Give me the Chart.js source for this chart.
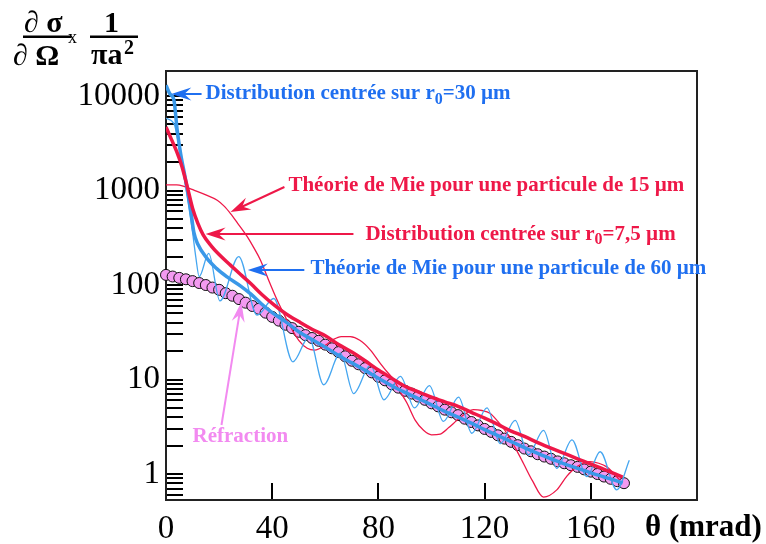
<!DOCTYPE html>
<html>
<head>
<meta charset="utf-8">
<script src="https://cdn.jsdelivr.net/npm/chart.js@4"></script>
<style>body{margin:0;background:#fff}</style>
</head>
<body>
<canvas id="c" width="766" height="544"></canvas>
<script>
// tick labels
const X_TICKS = [0, 40, 80, 120, 160];
const Y_TICK_LABELS = [1, 10, 100, 1000, 10000];

// Réfraction (pink circles)
const REFR_X = [0,2.5,5,7.5,10,12.5,15,17.5,20,22.5,25,27.5,30,32.5,35,37.5,40,42.5,45,47.5,
  50,52.5,55,57.5,60,62.5,65,67.5,70,72.5,75,77.5,80,82.5,85,87.5,90,92.5,95,97.5,
  100,102.5,105,107.5,110,112.5,115,117.5,120,122.5,125,127.5,130,132.5,135,137.5,140,142.5,145,147.5,
  150,152.5,155,157.5,160,162.5,165,167.5,170,172.5];
const REFR_Y = [128,123,119,115,110,105,100,94,89,82,77,71,65,60,56,51,46,42,38,35,
  32,29.5,27.5,25.7,23.4,21.4,19.5,17.6,15.8,14.5,13.2,11.9,10.7,9.8,8.9,8.2,7.6,7.1,6.6,6.1,
  5.6,5.2,4.8,4.5,4.2,3.85,3.55,3.27,3.0,2.79,2.57,2.37,2.19,2.02,1.86,1.74,1.62,1.53,1.45,1.36,
  1.30,1.24,1.19,1.12,1.06,1.0,0.94,0.89,0.84,0.80];

// Distribution centrée sur r0=7,5 µm (thick red)
const D75_X = [0,2,4,6,8,10,12,14,17,20,24,28,32,36,40,45,50,55,60,65,70,75,80,85,90,95,
  100,105,110,115,120,125,130,135,140,145,150,155,160,165,170,172];
const D75_Y = [4700,3500,2600,1800,1100,650,450,340,260,210,165,130,103,80,64,50,41,34,29,23.5,19.5,15.8,12.6,10.3,8.5,7.4,
  6.5,5.8,5.2,4.5,3.9,3.35,2.85,2.5,2.15,1.88,1.65,1.45,1.27,1.12,0.98,0.93];

// Distribution centrée sur r0=30 µm (thick blue)
const D30_X = [0,1.5,3,4.2,5.5,7.4,9.3,10.5,12,15.5,19,23,28,32,36,40,45,50,55,60,65,70,75,80,85,90,95,
  100,105,110,115,120,125,130,135,140,145,150,155,160,165,170,172];
const D30_Y = [13000,10500,9000,4400,2470,1290,620,360,270,190,150,122,98,80,63,51,41,32,26.5,22,18,15,12.5,10.3,8.6,7.3,6.3,
  5.4,4.6,4.0,3.45,2.95,2.55,2.2,1.9,1.65,1.45,1.28,1.15,1.03,0.93,0.84,0.8];

// Théorie de Mie, particule de 15 µm (thin red)
const MIE15_X = [0,4,7,10.5,15,19.3,22,24.3,27,30.6,33,35.6,38,41.9,44,46.9,50,53.2,56,60,
  63,66,69.4,73,77,80.7,83,85.8,88,90.8,93.9,97,100,103.3,106.5,109.6,112.5,115.8,119,122,
  125,128.4,131.5,134.6,138,142.2,147.2,151,154.7,159.7,163,166,171];
const MIE15_Y = [1150,1150,1100,1010,900,790,680,570,450,325,250,183,125,69,52,36,26,21.4,20.5,23,
  26.5,28.5,28.4,26,20.5,14.8,12.3,9.9,7.6,5.6,3.7,2.9,2.6,2.65,3.1,3.7,4.3,4.8,4.7,4.4,
  3.6,2.7,1.9,1.3,0.85,0.57,0.68,0.95,1.19,1.35,1.3,1.19,0.86];

// Théorie de Mie, particule de 60 µm (thin blue)
const MIE60_X = [0,3,5.5,8,9.9,11.2,12.5,16.1,20.3,27.4,34.3,40.6,47.8,53.8,59.4,65.7,70.7,77,82.1,88.3,
  93.6,99.2,104.5,110.2,115.2,120.9,125.9,131.5,136.5,142.2,147.2,152.9,158.5,163.5,169.8,174.5];
const MIE60_Y = [5800,5100,2300,860,380,200,123,216,68,200,48,72,15.4,28,8.8,19,7.1,14.2,6.1,10.8,
  5.0,8.6,3.6,6.5,2.7,5.0,2.1,3.7,1.6,2.9,1.15,2.3,0.94,1.72,0.68,1.4];

const RED = '#ee1848';
const BLUE = '#3a98e8';
const BLUE_TXT = '#1f6ff0';
const PINK = '#f39af0';
const PINK_TXT = '#f28af0';
const SERIF = '"Liberation Serif", "Times New Roman", serif';

const pts = (xs, ys) => xs.map((x, i) => ({x: x, y: ys[i]}));

// minor log ticks, 1..9 per decade
const Y_MINOR = [];
for (let e = -1; e <= 4; e++) {
  for (let d = 1; d <= 9; d++) {
    const v = +(d * Math.pow(10, e)).toPrecision(3);
    if (v >= 0.6 && v <= 10000) Y_MINOR.push(v);
  }
}

// annotations, anchored in data units
const NOTES = [
  {parts: [['Distribution centrée sur r'], ['0', 1], ['=30 µm']], color: BLUE_TXT,
   at: [14.9, 10500], from: [13.4, 10500], to: [2.0, 10500]},
  {parts: [['Théorie de Mie pour une particule de 15 µm']], color: RED,
   at: [46.1, 1115], from: [44.6, 1090], to: [24.3, 592]},
  {parts: [['Distribution centrée sur r'], ['0', 1], ['=7,5 µm']], color: RED,
   at: [75.1, 346], from: [70.6, 346], to: [14.9, 346]},
  {parts: [['Théorie de Mie pour une particule de 60 µm']], color: BLUE_TXT,
   at: [54.4, 148], from: [52.1, 144], to: [30.8, 144]},
  {parts: [['Réfraction']], color: PINK_TXT,
   at: [10, 2.52], from: [20.9, 3.3], to: [28.4, 66]}
];

function arrow(ctx, x1, y1, x2, y2, color) {
  const ang = Math.atan2(y2 - y1, x2 - x1);
  const len = 20, half = 6.5;
  ctx.strokeStyle = color;
  ctx.fillStyle = color;
  ctx.lineWidth = 2;
  ctx.beginPath();
  ctx.moveTo(x1, y1);
  ctx.lineTo(x2 - Math.cos(ang) * len * 0.6, y2 - Math.sin(ang) * len * 0.6);
  ctx.stroke();
  ctx.save();
  ctx.translate(x2, y2);
  ctx.rotate(ang);
  ctx.beginPath();
  ctx.moveTo(0, 0);
  ctx.lineTo(-len, -half);
  ctx.lineTo(-len * 0.65, 0);
  ctx.lineTo(-len, half);
  ctx.closePath();
  ctx.fill();
  ctx.restore();
}

const decor = {
  id: 'decor',
  beforeDatasetsDraw(chart) {
    const {ctx, chartArea: a} = chart;
    ctx.save();
    ctx.strokeStyle = '#222';
    ctx.lineWidth = 2;
    ctx.strokeRect(a.left, a.top, a.right - a.left, a.bottom - a.top);
    ctx.restore();
  },
  afterDraw(chart) {
    const {ctx, scales: {x, y}} = chart;
    ctx.save();
    ctx.textBaseline = 'middle';
    NOTES.forEach(n => {
      arrow(ctx, x.getPixelForValue(n.from[0]), y.getPixelForValue(n.from[1]),
        x.getPixelForValue(n.to[0]), y.getPixelForValue(n.to[1]), n.color);
      let px = x.getPixelForValue(n.at[0]);
      const py = y.getPixelForValue(n.at[1]);
      ctx.fillStyle = n.color;
      n.parts.forEach(p => {
        ctx.font = p[1] ? 'bold 16px ' + SERIF : 'bold 21px ' + SERIF;
        ctx.fillText(p[0], px, p[1] ? py + 6 : py);
        px += ctx.measureText(p[0]).width;
      });
    });

    // y axis title: d sigma / d Omega x 1 / (pi a^2)
    ctx.fillStyle = '#000';
    ctx.textBaseline = 'alphabetic';
    ctx.font = 'bold 30px ' + SERIF;
    ctx.fillText('∂ σ', 24, 32);
    ctx.fillText('∂ Ω', 13, 65);
    ctx.fillText('1', 104, 32);
    ctx.fillText('πa', 91, 64);
    ctx.font = 'bold 20px ' + SERIF;
    ctx.fillText('2', 124, 54);
    ctx.font = '18px ' + SERIF;
    ctx.fillText('x', 68, 43);
    ctx.fillRect(23, 35.5, 48, 2.5);
    ctx.fillRect(90, 35.5, 48, 2.5);

    // x axis title
    ctx.font = 'bold 31px ' + SERIF;
    ctx.textBaseline = 'middle';
    ctx.fillText('θ (mrad)', 645, 528);
    ctx.restore();
  }
};

const lineSet = (label, xs, ys, color, width) => ({
  label: label, data: pts(xs, ys), borderColor: color, borderWidth: width,
  pointRadius: 0, cubicInterpolationMode: 'monotone', fill: false
});

new Chart(document.getElementById('c'), {
  type: 'line',
  data: {
    datasets: [
      lineSet('Distribution r0=7,5 µm', D75_X, D75_Y, RED, 3.5),
      lineSet('Distribution r0=30 µm', D30_X, D30_Y, BLUE, 3.5),
      lineSet('Mie 60 µm', MIE60_X, MIE60_Y, '#45a6f0', 1.3),
      lineSet('Mie 15 µm', MIE15_X, MIE15_Y, RED, 1.3),
      {label: 'Réfraction', data: pts(REFR_X, REFR_Y), showLine: false, clip: false,
       pointRadius: 5.5, pointBackgroundColor: PINK, pointBorderColor: '#111', pointBorderWidth: 1}
    ]
  },
  options: {
    responsive: false,
    animation: false,
    layout: {padding: {top: 71, right: 69, bottom: 0, left: 0}},
    plugins: {legend: {display: false}, tooltip: {enabled: false}},
    scales: {
      x: {
        type: 'linear', min: 0, max: 200,
        afterBuildTicks: s => { s.ticks = X_TICKS.map(v => ({value: v})); },
        afterFit: s => { s.height = 44; },
        grid: {drawOnChartArea: false, drawTicks: true, tickLength: -17, color: '#000', lineWidth: 2},
        border: {color: '#000', width: 2},
        ticks: {font: {family: SERIF, size: 33}, color: '#000', padding: 27, maxRotation: 0, autoSkip: false}
      },
      y: {
        type: 'logarithmic', min: 0.531, max: 18400,
        afterBuildTicks: s => { s.ticks = Y_MINOR.map(v => ({value: v})); },
        afterFit: s => { s.width = 166; },
        grid: {drawOnChartArea: false, drawTicks: true, tickLength: -17, color: '#000', lineWidth: 2},
        border: {color: '#000', width: 2},
        ticks: {
          callback: v => Y_TICK_LABELS.includes(v) ? String(v) : '',
          font: {family: SERIF, size: 33}, color: '#000', padding: 23, autoSkip: false
        }
      }
    }
  },
  plugins: [decor]
});
</script>
</body>
</html>
